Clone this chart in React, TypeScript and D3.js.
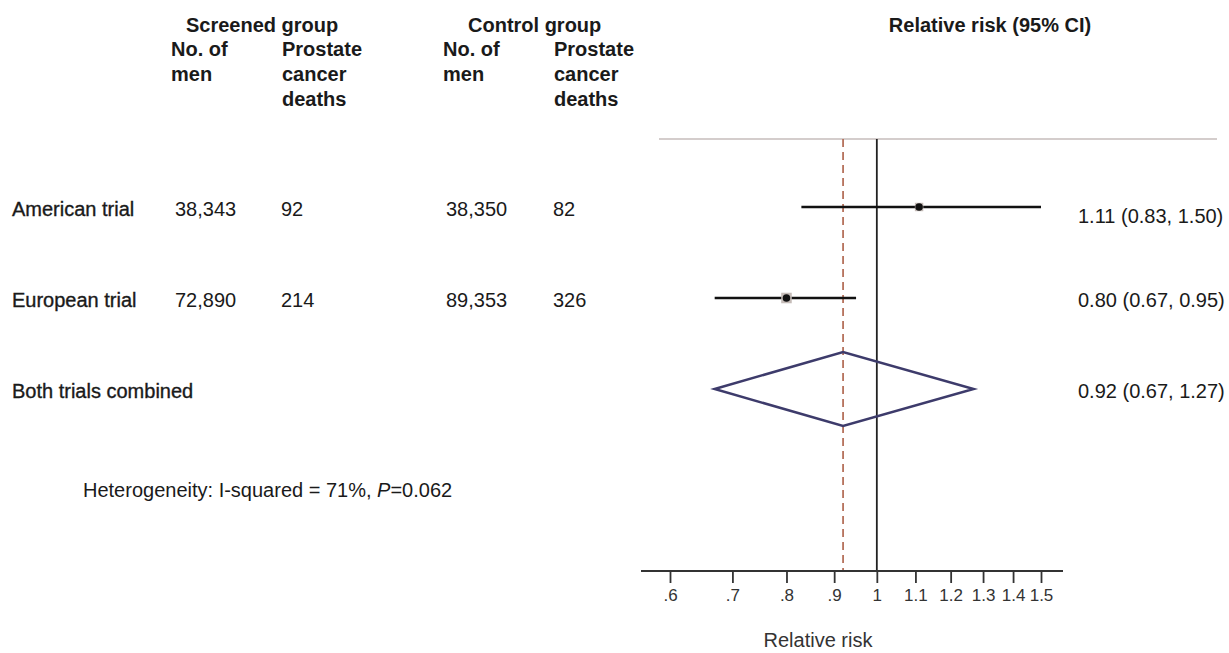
import React, { useEffect, useRef } from 'react'
import * as d3 from 'd3'

const WIDTH = 1229
const HEIGHT = 653

// trial data
const studies = ['American trial', 'European trial']
const screenedMen = [38343, 72890]
const screenedDeaths = [92, 214]
const controlMen = [38350, 89353]
const controlDeaths = [82, 326]
const rr = [1.11, 0.8]
const rrLow = [0.83, 0.67]
const rrHigh = [1.5, 0.95]
const weights = [39, 61]

const pooledLabel = 'Both trials combined'
const pooled = 0.92
const pooledLow = 0.67
const pooledHigh = 1.27

const tickValues = [0.6, 0.7, 0.8, 0.9, 1, 1.1, 1.2, 1.3, 1.4, 1.5]
const tickLabels = ['.6', '.7', '.8', '.9', '1', '1.1', '1.2', '1.3', '1.4', '1.5']

const FONT = '"Liberation Sans", Arial, Helvetica, sans-serif'

export default function App() {
  const ref = useRef<SVGSVGElement>(null)

  useEffect(() => {
    const svg = d3.select(ref.current)
    svg.selectAll('*').remove()

    const x = d3.scaleLog().domain([0.6, 1.5]).range([670, 1041])
    const y = d3.scalePoint<number>().domain([0, 1, 2]).range([207, 389])
    const fmt = d3.format(',')
    const fmt2 = d3.format('.2f')

    const AXIS_Y = 571
    const TOP_Y = 139

    const g = svg.append('g').attr('font-family', FONT).attr('fill', '#1a1a1a')

    // headers
    const bold = (t: string, tx: number, ty: number, anchor = 'start') =>
      g.append('text').attr('x', tx).attr('y', ty).attr('text-anchor', anchor)
        .attr('font-size', 20).attr('font-weight', 'bold').text(t)

    bold('Screened group', 186, 32)
    bold('Control group', 468, 32)
    bold('Relative risk (95% CI)', 990, 32, 'middle')
    ;[171, 443].forEach((cx) => {
      bold('No. of', cx, 56)
      bold('men', cx, 81)
    })
    ;[282, 554].forEach((cx) => {
      bold('Prostate', cx, 56)
      bold('cancer', cx, 81)
      bold('deaths', cx, 106)
    })

    // reference lines
    g.append('line')
      .attr('x1', 659).attr('x2', 1217).attr('y1', TOP_Y).attr('y2', TOP_Y)
      .attr('stroke', '#c6bdbb').attr('stroke-width', 1.6)
    g.append('line')
      .attr('x1', x(1)).attr('x2', x(1)).attr('y1', TOP_Y).attr('y2', AXIS_Y)
      .attr('stroke', '#222').attr('stroke-width', 1.8)
    g.append('line')
      .attr('x1', x(pooled)).attr('x2', x(pooled)).attr('y1', TOP_Y).attr('y2', AXIS_Y)
      .attr('stroke', '#b5715b').attr('stroke-width', 1.8).attr('stroke-dasharray', '8,5')

    // rows
    const rows = g.selectAll('g.row').data(studies).enter().append('g').attr('class', 'row')
    const labelText = (sel: any, col: number, fn: (d: string, i: number) => string) =>
      sel.append('text')
        .attr('x', col)
        .attr('y', (_d: string, i: number) => (y(i) as number) + 9)
        .attr('font-size', 20)
        .text(fn)

    labelText(rows, 12, (d) => d).attr('stroke', '#1a1a1a').attr('stroke-width', 0.35)
    labelText(rows, 175, (_d, i) => fmt(screenedMen[i]))
    labelText(rows, 281, (_d, i) => String(screenedDeaths[i]))
    labelText(rows, 446, (_d, i) => fmt(controlMen[i]))
    labelText(rows, 553, (_d, i) => String(controlDeaths[i]))

    rows.append('line')
      .attr('x1', (_d, i) => x(rrLow[i]))
      .attr('x2', (_d, i) => x(rrHigh[i]))
      .attr('y1', (_d, i) => y(i) as number)
      .attr('y2', (_d, i) => y(i) as number)
      .attr('stroke', '#111').attr('stroke-width', 2.5)

    const box = (i: number) => Math.sqrt(weights[i]) * 1.35
    rows.append('rect')
      .attr('width', (_d, i) => box(i))
      .attr('height', (_d, i) => box(i))
      .attr('x', (_d, i) => x(rr[i]) - box(i) / 2)
      .attr('y', (_d, i) => (y(i) as number) - box(i) / 2)
      .attr('fill', '#c5bcb8')

    rows.append('circle')
      .attr('cx', (_d, i) => x(rr[i]))
      .attr('cy', (_d, i) => y(i) as number)
      .attr('r', 3.8)
      .attr('fill', '#111')

    rows.append('text')
      .attr('x', 1078)
      .attr('y', (_d, i) => (y(i) as number) + (i === 0 ? 16 : 9))
      .attr('font-size', 20)
      .text((_d, i) => `${fmt2(rr[i])} (${fmt2(rrLow[i])}, ${fmt2(rrHigh[i])})`)

    // pooled row
    const py = y(2) as number
    g.append('text').attr('x', 12).attr('y', py + 9).attr('font-size', 20)
      .attr('stroke', '#1a1a1a').attr('stroke-width', 0.35).text(pooledLabel)
    g.append('path')
      .attr('d', d3.line()([
        [x(pooledLow), py],
        [x(pooled), py - 37],
        [x(pooledHigh), py],
        [x(pooled), py + 37],
      ]) + 'Z')
      .attr('fill', 'none').attr('stroke', '#3d3b6b').attr('stroke-width', 2.5)
    g.append('text').attr('x', 1078).attr('y', py + 9).attr('font-size', 20)
      .text(`${fmt2(pooled)} (${fmt2(pooledLow)}, ${fmt2(pooledHigh)})`)

    const het = g.append('text').attr('x', 83).attr('y', 497).attr('font-size', 20)
    het.append('tspan').text('Heterogeneity: I-squared = 71%, ')
    het.append('tspan').attr('font-style', 'italic').text('P')
    het.append('tspan').text('=0.062')

    // axis
    g.append('line')
      .attr('x1', 641).attr('x2', 1063).attr('y1', AXIS_Y).attr('y2', AXIS_Y)
      .attr('stroke', '#333').attr('stroke-width', 1.8)
    const axis = g.append('g')
      .attr('transform', `translate(0, ${AXIS_Y})`)
      .call(
        d3.axisBottom(x)
          .tickValues(tickValues)
          .tickSize(12)
          .tickPadding(6)
          .tickFormat((_v, i) => tickLabels[i])
      )
    axis.select('.domain').remove()
    axis.attr('font-size', 17).attr('font-family', FONT)
    axis.selectAll('line').attr('stroke', '#333').attr('stroke-width', 1.8)
    axis.selectAll('text').attr('fill', '#333')

    g.append('text').attr('x', 818).attr('y', 647).attr('text-anchor', 'middle')
      .attr('font-size', 20).attr('fill', '#333').text('Relative risk')
  }, [])

  return (
    <svg
      ref={ref}
      width={WIDTH}
      height={HEIGHT}
      style={{ position: 'absolute', left: 0, top: 0, background: '#fff' }}
    />
  )
}
